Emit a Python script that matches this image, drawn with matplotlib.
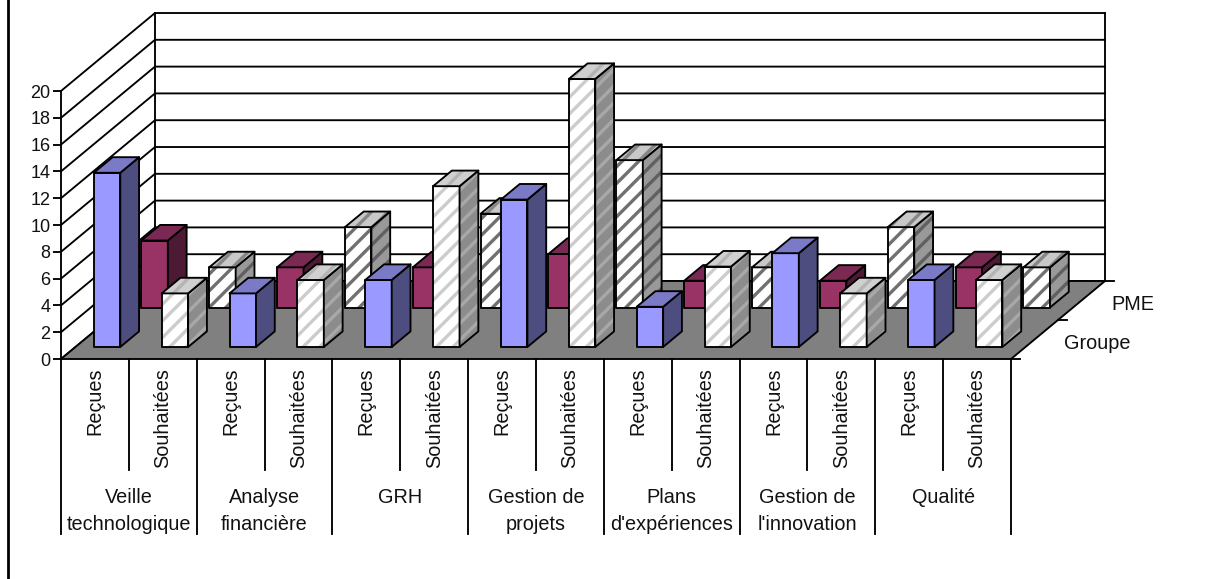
import matplotlib
matplotlib.use('Agg')
import matplotlib.pyplot as plt
from matplotlib.lines import Line2D
from matplotlib.patches import Polygon

plt.rcParams['font.family'] = ['Liberation Sans', 'DejaVu Sans']
plt.rcParams['hatch.linewidth'] = 2.4

# ── Data ───────────────────────────────────────────────────────────────────────
CATEGORIES = ["Veille\ntechnologique", "Analyse\nfinancière", "GRH", "Gestion de\nprojets",
              "Plans\nd'expériences", "Gestion de\nl'innovation", "Qualité"]
SUB_LABELS = ["Reçues", "Souhaitées"]
SERIES = ["Groupe", "PME"]

# pairs are Reçues, Souhaitées
GROUPE = [13, 4, 4, 5, 5, 12, 11, 20, 3, 6, 7, 4, 5, 5]
PME = [5, 3, 3, 6, 3, 7, 4, 11, 2, 3, 2, 6, 3, 3]

Y_TICKS = list(range(0, 21, 2))

# ── Style ──────────────────────────────────────────────────────────────────────
INK = "#000000"
TEXT = "#111111"
FLOOR = "#808080"
LW = 1.35
FS = 14.3
TICK_FS = 13

# (front, side, top) colour; a hatch colour goes with the striped ones
SOLID_GROUPE = ("#9999ff", "#4d4d80", "#7a7ac6")
SOLID_PME = ("#993366", "#4d1a33", "#7a2952")
STRIPE_GROUPE = (("#ffffff", "#cccccc"), ("#8c8c8c", "#a8a8a8"), ("#d0d0d0", "#b4b4b4"))
STRIPE_PME = (("#ffffff", "#707070"), ("#999999", "#606060"), ("#c8c8c8", "#868686"))

# ── Projection of the depth axis, in data units ────────────────────────────────
DEPTH_X = 1.385
DEPTH_Y = 5.82
BAR_GAP = 0.27
BAR_W = 0.39
BAR_DEPTH = 0.2
ROW_START = [0.154, 0.66]


def proj(x, y, d):
    return x + d * DEPTH_X, y + d * DEPTH_Y


def face(ax, pts, colour, z):
    if isinstance(colour, tuple):
        ax.add_patch(Polygon(pts, closed=True, facecolor=colour[0], edgecolor=colour[1],
                             hatch="//", linewidth=0, clip_on=False, zorder=z))
    else:
        ax.add_patch(Polygon(pts, closed=True, facecolor=colour, edgecolor="none",
                             clip_on=False, zorder=z))
    ax.add_patch(Polygon(pts, closed=True, fill=False, edgecolor=INK, linewidth=LW,
                         joinstyle="round", clip_on=False, zorder=z + 0.1))


def draw_bar(ax, slot, value, row, colours, z):
    d0 = ROW_START[row]
    d1 = d0 + BAR_DEPTH
    x0, x1 = slot + BAR_GAP, slot + BAR_GAP + BAR_W
    front = [proj(x0, 0, d0), proj(x1, 0, d0), proj(x1, value, d0), proj(x0, value, d0)]
    side = [proj(x1, 0, d0), proj(x1, 0, d1), proj(x1, value, d1), proj(x1, value, d0)]
    top = [proj(x0, value, d0), proj(x1, value, d0), proj(x1, value, d1), proj(x0, value, d1)]
    face(ax, front, colours[0], z)
    face(ax, side, colours[1], z + 0.2)
    face(ax, top, colours[2], z + 0.4)


fig = plt.figure(figsize=(12.05, 5.79), dpi=100, facecolor="white")
ax = fig.add_axes([61 / 1205, (579 - 359) / 579, 950 / 1205, 268 / 579])
n_slots = len(GROUPE)
ax.set_xlim(0, n_slots)
ax.set_ylim(0, Y_TICKS[-1])
ax.patch.set_visible(False)
for name in ("top", "right", "bottom"):
    ax.spines[name].set_visible(False)
ax.spines["left"].set_linewidth(LW)
ax.spines["left"].set_color(INK)
ax.set_xticks([])
ax.set_yticks(Y_TICKS)
ax.tick_params(axis="y", length=6, width=LW, pad=1.5, labelsize=TICK_FS, labelcolor=TEXT, color=INK)

# walls and gridlines
for v in Y_TICKS:
    ax.plot(*zip(proj(0, v, 0), proj(0, v, 1), proj(n_slots, v, 1)), color=INK, lw=LW,
            clip_on=False, zorder=1)
ax.plot(*zip(proj(0, 0, 1), proj(0, Y_TICKS[-1], 1)), color=INK, lw=LW, clip_on=False, zorder=1)
ax.plot(*zip(proj(n_slots, 0, 1), proj(n_slots, Y_TICKS[-1], 1)), color=INK, lw=LW, clip_on=False, zorder=1)

# floor
ax.add_patch(Polygon([proj(0, 0, 0), proj(n_slots, 0, 0), proj(n_slots, 0, 1), proj(0, 0, 1)],
                     closed=True, facecolor=FLOOR, edgecolor=INK, linewidth=LW, clip_on=False, zorder=2))

# bars, back row first
z = 3
for slot, value in enumerate(PME):
    draw_bar(ax, slot, value, 1, SOLID_PME if slot % 2 == 0 else STRIPE_PME, z)
    z += 1
for slot, value in enumerate(GROUPE):
    draw_bar(ax, slot, value, 0, SOLID_GROUPE if slot % 2 == 0 else STRIPE_GROUPE, z)
    z += 1

# depth ticks and series names
for d in (0, 0.5, 1):
    x, y = proj(n_slots, 0, d)
    ax.plot([x, x + 0.13], [y, y], color=INK, lw=LW, clip_on=False, zorder=2)
for name, d, shift in zip(SERIES, (0.25, 0.75), (0.43, 0.44)):
    x, y = proj(n_slots, 0, d)
    ax.text(x + shift, y - 0.3, name, ha="left", va="center", fontsize=FS, color=TEXT)

# multi-level category axis
SHORT_SEP = -8.3
LONG_SEP = -13.05
for slot in range(n_slots + 1):
    end = LONG_SEP if slot % 2 == 0 else SHORT_SEP
    ax.plot([slot, slot], [0, end], color=INK, lw=LW, clip_on=False, zorder=2)
for slot in range(n_slots):
    ax.text(slot + 0.5, -0.65, SUB_LABELS[slot % 2], rotation=90, ha="center", va="top",
            fontsize=FS, color=TEXT)
for i, cat in enumerate(CATEGORIES):
    ax.text(2 * i + 1, -9.6, cat, ha="center", va="top", fontsize=FS, color=TEXT, linespacing=1.55)

# window edge on the left
fig.add_artist(Line2D([8 / 1205, 8 / 1205], [0, 1], color=INK, lw=2))

fig.savefig("out.png", dpi=100, facecolor="white")
plt.close(fig)
